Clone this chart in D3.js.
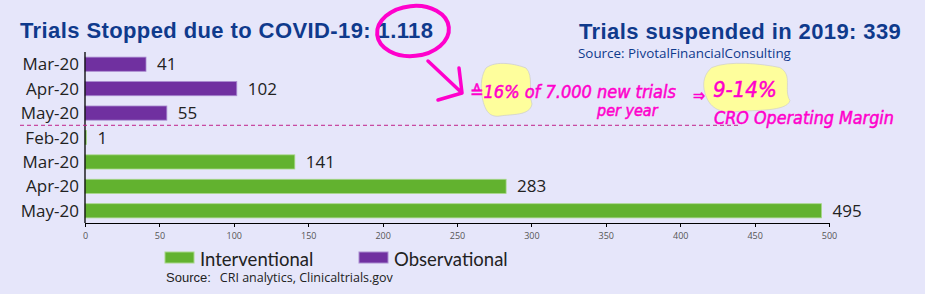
<!DOCTYPE html>
<meta charset="utf-8">
<style>
body { margin: 0; background: #e6e6fa; }
svg { display: block; }
.axis text { font: 9px "Open Sans", sans-serif; fill: #555; }
.axis path, .axis line { stroke: #000; shape-rendering: crispEdges; }
.cat, .val { font: 17px "Open Sans", sans-serif; fill: #222; }
.title { font: bold 22px "Liberation Sans", Arial, sans-serif; fill: #0f3a8c; letter-spacing: 0.4px; }
.hand { font-family: "DejaVu Sans Condensed", sans-serif; font-style: italic; fill: #ff00cc; stroke: #ff00cc; stroke-width: 0.5px; }
</style>
<svg width="925" height="294"></svg>
<script src="https://cdn.jsdelivr.net/npm/d3@7"></script>
<script>

var obsMonths = ["Mar-20", "Apr-20", "May-20"],
    obsValues = [41, 102, 55];
var intMonths = ["Feb-20", "Mar-20", "Apr-20", "May-20"],
    intValues = [1, 141, 283, 495];
var xTicks = [0, 50, 100, 150, 200, 250, 300, 350, 400, 450, 500];

var colors = {obs: "#7030a0", int: "#62b22f"};

var rows = obsMonths.map(function(m, i) { return {month: m, value: obsValues[i], type: "obs"}; })
    .concat(intMonths.map(function(m, i) { return {month: m, value: intValues[i], type: "int"}; }));

var svg = d3.select("svg");

var x = d3.scaleLinear().domain([0, 500]).range([85, 829]);
var y = d3.scaleBand().domain(d3.range(rows.length)).range([52, 223]).paddingInner(0.42).paddingOuter(0.21);

// titles
svg.append("text").attr("class", "title").attr("x", 20).attr("y", 38)
    .text("Trials Stopped due to COVID-19: 1.118");
svg.append("text").attr("class", "title").attr("x", 579).attr("y", 39)
    .text("Trials suspended in 2019: 339");
svg.append("text").attr("x", 578).attr("y", 58)
    .style("font", "13.4px 'Open Sans', sans-serif").style("fill", "#0f3a8c")
    .text("Source: PivotalFinancialConsulting");

// bars
svg.append("g").selectAll("rect").data(rows).join("rect")
    .attr("x", x(0))
    .attr("y", function(d, i) { return y(i); })
    .attr("width", function(d) { return x(d.value) - x(0); })
    .attr("height", y.bandwidth())
    .attr("fill", function(d) { return colors[d.type]; })
    .attr("stroke", function(d) { return d.type == "obs" ? "#a98bd0" : "#a8d88a"; })
    .attr("stroke-width", 0.8);

svg.append("g").selectAll("text").data(rows).join("text")
    .attr("class", "val")
    .attr("x", function(d) { return x(d.value) + 11; })
    .attr("y", function(d, i) { return y(i) + y.bandwidth() / 2; })
    .attr("dy", "0.36em")
    .text(function(d) { return d.value; });

svg.append("g").selectAll("text").data(rows).join("text")
    .attr("class", "cat")
    .attr("x", 79)
    .attr("text-anchor", "end")
    .attr("y", function(d, i) { return y(i) + y.bandwidth() / 2; })
    .attr("dy", "0.36em")
    .text(function(d) { return d.month; });

// axes
svg.append("g").attr("class", "axis")
    .attr("transform", "translate(0,223)")
    .call(d3.axisBottom(x).tickValues(xTicks).tickSizeInner(4).tickSizeOuter(0).tickPadding(6))
    .select(".domain").attr("stroke-width", 1.3);

svg.append("line").attr("x1", 85).attr("x2", 85).attr("y1", 52).attr("y2", 223)
    .attr("stroke", "#000").attr("stroke-width", 1.3);

// dashed separator
var sepY = (y(2) + y.bandwidth() + y(3)) / 2;
svg.append("line").attr("x1", 20).attr("x2", 740).attr("y1", sepY).attr("y2", sepY)
    .attr("stroke", "#c0208a").attr("stroke-dasharray", "4,3");

// legend
var legend = [{name: "Interventional", type: "int", x: 165}, {name: "Observational", type: "obs", x: 359}];
var lg = svg.append("g").selectAll("g").data(legend).join("g")
    .attr("transform", function(d) { return "translate(" + d.x + ",252)"; });
lg.append("rect").attr("width", 29).attr("height", 11)
    .attr("fill", function(d) { return colors[d.type]; })
    .attr("stroke", function(d) { return d.type == "obs" ? "#a98bd0" : "#a8d88a"; });
lg.append("text").attr("x", 35).attr("y", 13.5)
    .style("font", "18.5px Lato, sans-serif").style("fill", "#222")
    .text(function(d) { return d.name; });

var src = svg.append("text").attr("x", 166).attr("y", 282).style("fill", "#222");
src.append("tspan").style("font", "13px 'Liberation Sans', Arial, sans-serif").text("Source:");
src.append("tspan").attr("dx", 9).style("font", "12.5px 'Open Sans', sans-serif").text("CRI analytics, Clinicaltrials.gov");

// hand-drawn annotations
var blob = "M4,6 C14,-2 34,2 44,6 C52,14 46,30 50,42 C48,54 30,52 18,54 C6,56 2,46 0,34 C-2,22 0,12 4,6 Z";
svg.append("path").attr("d", blob).attr("transform", "translate(482,62)")
    .attr("fill", "#fefe9c").attr("stroke", "#ccc").attr("stroke-width", 0.7);
svg.append("path").attr("d", blob).attr("transform", "translate(705,62) scale(1.7,0.92)")
    .attr("fill", "#fefe9c").attr("stroke", "#ccc").attr("stroke-width", 0.5);

svg.append("ellipse").attr("cx", 413).attr("cy", 31).attr("rx", 36).attr("ry", 25)
    .attr("transform", "rotate(-6,413,31)")
    .attr("fill", "none").attr("stroke", "#ff00cc").attr("stroke-width", 4);
svg.append("path").attr("d", "M428,61 L462,93 M438,100 L462,93 L459,68")
    .attr("fill", "none").attr("stroke", "#ff00cc").attr("stroke-width", 3.5)
    .attr("stroke-linecap", "round").attr("stroke-linejoin", "round");

svg.append("text").attr("class", "hand").attr("x", 470).attr("y", 98)
    .style("font-size", "18px").text("≙16% of 7.000 new trials");
svg.append("text").attr("class", "hand").attr("x", 597).attr("y", 116)
    .style("font-size", "16px").text("per year");
svg.append("text").attr("class", "hand").attr("x", 693).attr("y", 101)
    .style("font-size", "16px").text("⇒");
svg.append("text").attr("class", "hand").attr("x", 713).attr("y", 97)
    .style("font-size", "22px").text("9-14%");
svg.append("text").attr("class", "hand").attr("x", 714).attr("y", 124)
    .style("font-size", "17.8px").text("CRO Operating Margin");

</script>
